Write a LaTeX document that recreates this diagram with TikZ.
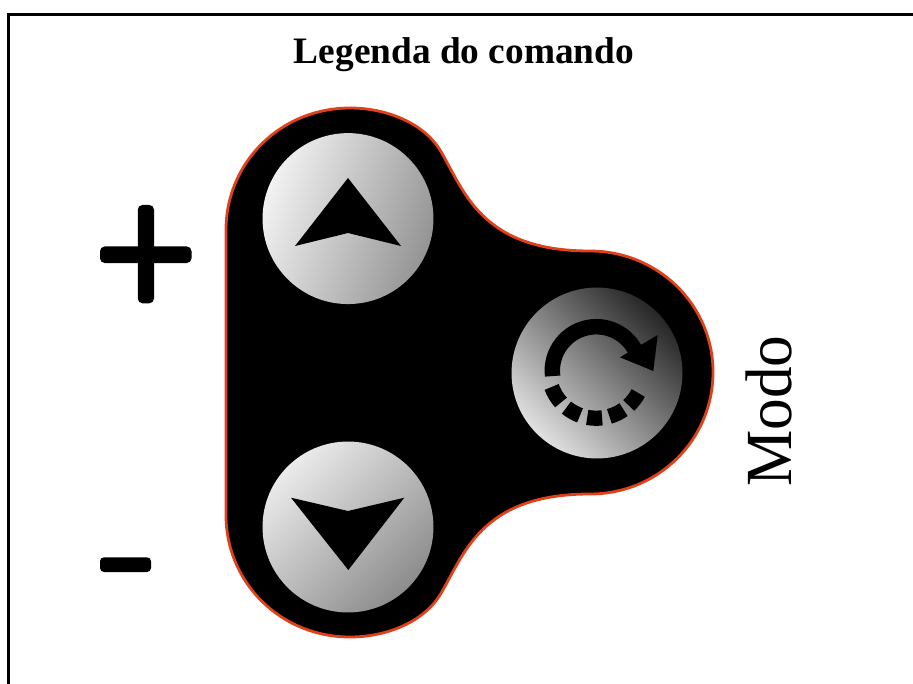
\documentclass[tikz,border=0pt]{standalone}
\usepackage{fontspec}
\setmainfont{Liberation Serif}
\definecolor{rim}{HTML}{E0401A}
\tikzset{
  btn/.style={circle,inner sep=0pt,minimum size=128.2pt,draw=none},
  seg/.style={line width=11.4pt,black},
}
\newcommand{\segm}[2]{\draw[seg] (#1:47.5) arc[start angle=#1,end angle=#2,radius=47.5];}
\begin{document}
\begin{tikzpicture}[x=0.75pt,y=-0.75pt]
\useasboundingbox (0,0) rectangle (913,684);
\fill[white] (0,0) rectangle (913,684);
\draw[line width=1.6pt,black] (8.5,684) -- (8.5,14.5) -- (913,14.5);
\node[font=\bfseries\fontsize{28}{32}\selectfont,inner sep=0pt,anchor=base] (title) at (464,64) {Legenda do comando};
\node[font=\fontsize{47.5}{56}\selectfont,inner sep=0pt,rotate=90,anchor=base] (modo) at (791,411) {\scalebox{1}[1.04]{Modo}};
% plus / minus
\fill[rounded corners=3.5pt] (100,246.5) rectangle (191.5,263);
\fill[rounded corners=3.5pt] (137.8,205) rectangle (154,303.3);
\fill[rounded corners=3pt] (100,557.3) rectangle (151,572);
% body
\draw[fill=black,draw=rim,line width=2.1pt]
 (226,230) .. controls (226,162) and (281,108) .. (350,108)
 .. controls (388,108) and (424,124) .. (440,150)
 .. controls (464,190) and (480,251) .. (590,251)
 .. controls (658,251) and (713,305) .. (713,372)
 .. controls (713,440) and (658,494) .. (590,494)
 .. controls (480,494) and (464,555) .. (440,595)
 .. controls (424,621) and (388,637) .. (350,637)
 .. controls (281,637) and (226,583) .. (226,515) -- cycle;
\node[btn,shade,top color=white!95!black,bottom color=white!58!black,shading angle=70] (up) at (348,218.6) {};
\node[btn,shade,top color=white!92!black,bottom color=white!55!black,shading angle=45] (down) at (348,527) {};
\node[btn,shade,top color=white!15!black,bottom color=white!88!black,shading angle=-45] (mode) at (597,373) {};
% glyphs
\fill (348,178) -- (401,246) -- (348,233) -- (295,246) -- cycle;
\fill (348.3,570) -- (404.3,497.7) -- (348,511) -- (291,497.7) -- cycle;
\begin{scope}[shift={(596.3,370.7)},x=0.75pt,y=0.75pt]
  \draw[line width=11.6pt] (187:44) arc[start angle=187,end angle=27,radius=44];
  \segm{-28}{-47}
  \segm{-55}{-74}
  \segm{-83}{-101}
  \segm{-110}{-129}
  \segm{-138}{-160}
\end{scope}
\fill (657.7,335) -- (620,357.3) -- (653.3,371) -- cycle;
\end{tikzpicture}
\end{document}
